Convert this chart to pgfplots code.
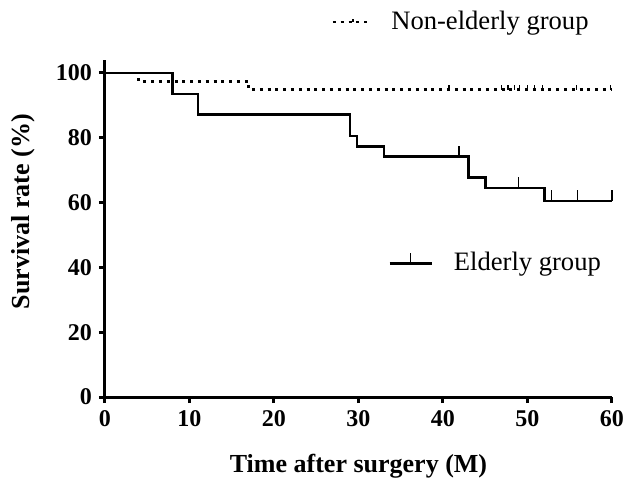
\documentclass[border=0pt]{standalone}
\usepackage{fontspec}
\setmainfont{Liberation Serif}
\usepackage{pgfplots}
\pgfplotsset{compat=1.18}

% censor mark: short stroke going up from the curve
\pgfdeclareplotmark{cens}{%
  \pgfpathmoveto{\pgfpoint{0pt}{0pt}}%
  \pgfpathlineto{\pgfpoint{0pt}{\pgfplotmarksize}}%
  \pgfusepathqstroke}

\pgfplotsset{
  km/.style={
    width=253.5pt, height=168.5pt, scale only axis,
    xmin=0, xmax=60, ymin=0, ymax=104,
    clip=false,
  },
}

\begin{document}
\begin{tikzpicture}
% main axis with Elderly group
\begin{axis}[km,
    axis lines=left,
    axis line style={-, line width=1.5pt},
    xtick={0,10,...,60}, ytick={0,20,...,100},
    tick align=outside,
    major tick length=3pt,
    tick style={line width=1.5pt, black},
    ticklabel style={font=\fontsize{12}{14}\selectfont\bfseries},
    /pgf/number format/assume math mode=true,
    xlabel={Time after surgery (M)},
    ylabel={Survival rate (\%)},
    label style={font=\fontsize{13}{15}\selectfont\bfseries},
    xlabel style={at={(axis description cs:0.5,-0.205)}, anchor=center},
    ylabel style={at={(axis description cs:-0.162,0.55)}, anchor=center},
    legend style={draw=none, fill=none, inner sep=0pt,
      at={(0.558,0.397)}, anchor=west,
      font=\fontsize{13.3}{15}\selectfont},
    legend image code/.code={
      \draw[line width=1.3pt] (0pt,0pt) -- (21pt,0pt);
      \draw[line width=0.6pt] (10.5pt,0pt) -- (10.5pt,5pt);
    },
]
\addplot[const plot, line width=1.3pt, black] coordinates {
  (0,100) (8,93.5) (11,87.1) (29,80.6) (29.8,77.4) (33,74.2)
  (43,67.7) (45,64.5) (52,60.5) (60,60.5)
};
\addlegendentry{\hspace{8.5pt}Elderly group}
\addplot[only marks, mark=cens, mark size=5.5pt, line width=0.6pt, black,
  forget plot] coordinates {
  (41.9,74.2) (48.9,64.5) (52.8,60.5) (55.9,60.5) (60,60.5)
};
\coordinate (bl) at (rel axis cs:0,0);
\coordinate (tr) at (rel axis cs:1,1);
\end{axis}

% overlay axis with Non-elderly group
\begin{axis}[km,
    hide axis,
    legend style={draw=none, fill=none, inner sep=0pt,
      at={(0.446,1.113)}, anchor=west,
      font=\fontsize{13.3}{15}\selectfont},
    legend image code/.code={
      \draw[line width=1.4pt, dash pattern=on 1.5pt off 2.4pt] (0pt,0pt) -- (17.5pt,0pt);
      \draw[line width=0.6pt] (10pt,0pt) -- (10pt,2.5pt);
    },
]
\addplot[const plot, line width=1.4pt, black, dash pattern=on 1.5pt off 2.4pt]
  coordinates {
  (0,100) (4,97.4) (17,94.8) (60,94.8)
};
\addlegendentry{\hspace{9pt}Non-elderly group}
\addplot[only marks, mark=cens, mark size=2.5pt, line width=0.6pt, black,
  forget plot] coordinates {
  (40.7,94.8) (46.9,94.8) (47.7,94.8) (48.5,94.8) (49.1,94.8)
  (50.0,94.8) (50.8,94.8) (51.8,94.8) (55.8,94.8) (59.8,94.8)
};
\end{axis}
% page frame as in the reference: 312pt x 242pt around the axis
\pgfresetboundingbox
\path ([xshift=-52.5pt,yshift=-43.5pt]bl) rectangle ([xshift=6pt,yshift=30pt]tr);
\end{tikzpicture}
\end{document}
